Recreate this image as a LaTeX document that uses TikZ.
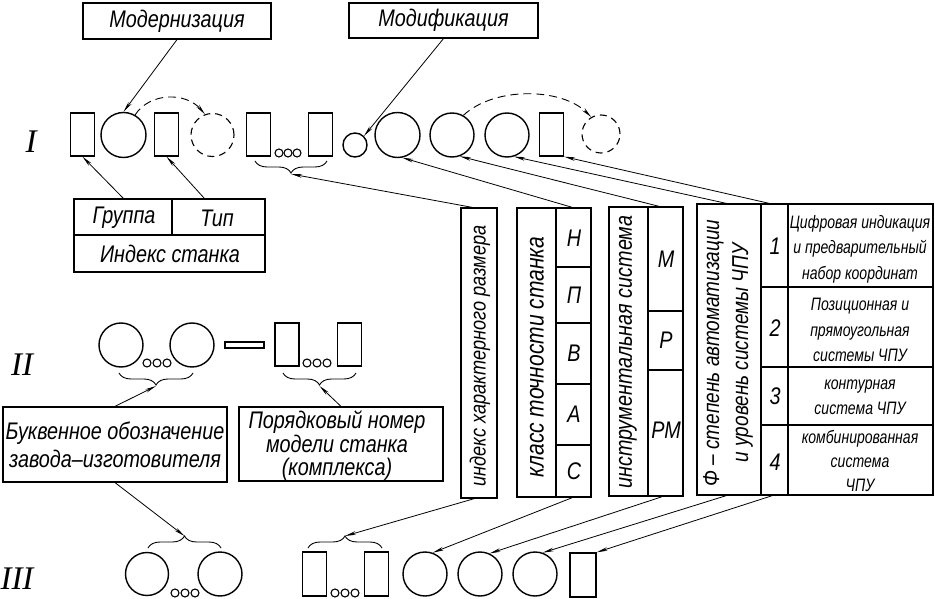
\documentclass[tikz,border=0pt]{standalone}
\usepackage{fontspec}
\newfontfamily\gost{Liberation Sans}[FakeStretch=0.825]
\newfontfamily\gostn{Liberation Sans}[FakeStretch=0.78]
\newfontfamily\rmnum{Liberation Serif}
\usetikzlibrary{arrows.meta,decorations.pathreplacing}
\begin{document}
\begin{tikzpicture}[x=1pt,y=-1pt,
  shp/.style={draw, line width=1.4pt, inner sep=0pt},
  rbox/.style={shp, rectangle, minimum width=24pt, minimum height=43pt},
  cbox/.style={shp, circle, minimum size=44pt},
  dcirc/.style={draw, line width=1.1pt, circle, inner sep=0pt, dash pattern=on 7pt off 5pt},
  dot/.style={draw, line width=1.1pt, circle, minimum size=8pt, inner sep=0pt},
  arr/.style={line width=0.8pt, -{Stealth[length=11pt,width=3.6pt]}},
  darr/.style={line width=0.9pt, dash pattern=on 8pt off 5pt, -{Stealth[length=11pt,width=3.6pt]}},
  frm/.style={draw, line width=1.2pt, rectangle, inner sep=0pt},
  tline/.style={line width=1.2pt},
  big/.style={font=\gost\itshape\fontsize{24}{28}\selectfont},
  small/.style={font=\gostn\itshape\fontsize{18}{25.5}\selectfont},
  rn/.style={font=\rmnum\itshape\fontsize{33}{36}\selectfont, inner sep=0pt},
  brd/.style={line width=0.9pt, decorate, decoration={brace, amplitude=12pt, mirror}},
  bru/.style={line width=0.9pt, decorate, decoration={brace, amplitude=12pt}}]
\useasboundingbox (0,0) rectangle (935,599);

% ---------- top boxes
\node[frm, minimum width=188pt, minimum height=36pt, big] (mod) at (177,21) {Модернизация};
\node[frm, minimum width=189pt, minimum height=35pt, big] (modf) at (443.5,20.5) {Модификация};

% ---------- row I
\node[rn] (nI) at (31,142) {I};
\node[rbox] (r1) at (82.5,134.5) {};
\node[cbox, minimum size=45pt] (c1) at (123.5,135) {};
\node[rbox] (r2) at (166.5,134.5) {};
\node[dcirc, minimum size=43pt] (dc1) at (212.5,135) {};
\node[rbox] (r3) at (258.5,134.5) {};
\node[dot] (o1) at (279,153) {};
\node[dot] (o2) at (288,153) {};
\node[dot] (o3) at (297,153) {};
\node[rbox] (r4) at (320.5,134.5) {};
\node[shp, circle, minimum size=24pt] (sc) at (355,145) {};
\node[cbox, minimum size=45pt] (c2) at (397.5,135) {};
\node[cbox] (c3) at (452,135) {};
\node[cbox] (c4) at (507,135) {};
\node[rbox] (r5) at (551.5,134.5) {};
\node[dcirc, minimum size=38pt] (dc2) at (601,134) {};

\draw[darr] (c1.60) .. controls (150,92) and (186,92) .. (dc1.110);
\draw[darr] (c3.60) .. controls (495,86) and (562,88) .. (dc2.120);

\draw[brd] (255,161) -- (327,161);
\coordinate (tI) at (291,174);

\draw[arr] (mod.south) -- (c1.north);
\draw[arr] (modf.south) -- (sc.45);

% ---------- group / type table
\node[frm, minimum width=191pt, minimum height=73pt] (gt) at (169.5,235.5) {};
\draw[tline] (74,235) -- (265,235);
\draw[tline] (172,199) -- (172,235);
\node[big] (tgr) at (124,218) {Группа};
\node[big] (ttp) at (217,218) {Тип};
\node[big] (tix) at (170,254) {Индекс станка};
\draw[arr] ([xshift=50pt]gt.north west) -- (r1.south);
\draw[arr] ([xshift=131pt]gt.north west) -- (r2.south);

% ---------- right tables
\node[frm, minimum width=36pt, minimum height=290pt] (ind) at (479,353) {};
\node[big, rotate=90, font=\gost\itshape\fontsize{22}{26}\selectfont] (tind) at (480,356) {индекс характерного размера};

\node[frm, minimum width=74pt, minimum height=289pt] (kl) at (554,352.5) {};
\draw[tline] (556,208) -- (556,497);
\foreach \yy in {267,323,384,445} \draw[tline] (556,\yy) -- (591,\yy);
\node[big, rotate=90, font=\gost\itshape\fontsize{25.5}{28}\selectfont] (tkl) at (537,357) {класс точности станка};
\node[big] (kH) at (574,238) {Н};
\node[big] (kP) at (574,295) {П};
\node[big] (kB) at (574,353) {В};
\node[big] (kA) at (574,414) {А};
\node[big] (kC) at (574,471) {С};

\node[frm, minimum width=74pt, minimum height=289pt] (ins) at (646,351.5) {};
\draw[tline] (648,207) -- (648,496);
\draw[tline] (648,311) -- (683,311);
\draw[tline] (648,370) -- (683,370);
\node[big, rotate=90] (tins) at (628,352) {инструментальная система};
\node[big] (iM) at (666,259) {М};
\node[big] (iP) at (666,340) {Р};
\node[big] (iPM) at (666,430) {РМ};

\node[frm, minimum width=236pt, minimum height=291pt] (phi) at (815,349.5) {};
\draw[tline] (761,204) -- (761,495);
\draw[tline] (788,204) -- (788,495);
\foreach \yy in {287,367,425} \draw[tline] (761,\yy) -- (933,\yy);
\node[big, rotate=90, align=center, font=\gost\itshape\fontsize{23}{29}\selectfont] (tphi) at (728,353) {Φ – степень автоматизации\\и уровень системы ЧПУ};
\node[big] (n1) at (775,246) {1};
\node[big] (n2) at (775,328) {2};
\node[big] (n3) at (775,396) {3};
\node[big] (n4) at (775,462) {4};
\node[small, align=center] (d1) at (860,249) {Цифровая индикация\\и предварительный\\набор координат};
\node[small, align=center] (d2) at (860,330) {Позиционная и\\прямоугольная\\системы ЧПУ};
\node[small, align=center] (d3) at (860,397) {контурная\\система ЧПУ};
\node[small, align=center, font=\gostn\itshape\fontsize{18}{24}\selectfont] (d4) at (860,461) {комбинированная\\система\\ЧПУ};

% arrows up to row I
\draw[arr] ([xshift=12pt]ind.north west) -- (tI);
\draw[arr] ([xshift=56pt]kl.north west) -- (c2.-78);
\draw[arr] ([xshift=51pt]ins.north west) -- (c3.-70);
\draw[arr] ([xshift=30pt]phi.north west) -- (c4.-72);
\draw[arr] ([xshift=73pt]phi.north west) -- (r5.south east);

% ---------- row II
\node[rn] (nII) at (22,365) {II};
\node[cbox] (c5) at (121,345) {};
\node[dot] (o4) at (147,363) {};
\node[dot] (o5) at (157,363) {};
\node[dot] (o6) at (167,363) {};
\node[cbox] (c6) at (192,345) {};
\node[shp, line width=1.1pt, rectangle, minimum width=39pt, minimum height=6pt] (bar) at (244.5,345) {};
\node[rbox] (r6) at (287,344.5) {};
\node[dot] (o7) at (307,363) {};
\node[dot] (o8) at (317,363) {};
\node[dot] (o9) at (327,363) {};
\node[rbox] (r7) at (349.5,344.5) {};
\draw[brd] (119,373) -- (193,373);
\coordinate (tII1) at (156,386);
\draw[brd] (283,373) -- (356,373);
\coordinate (tII2) at (319.5,386);

\node[frm, minimum width=224pt, minimum height=75pt, big, align=center] (buk) at (115,444.5)
  {Буквенное обозначение\\завода–изготовителя};
\node[frm, minimum width=204pt, minimum height=74pt] (por) at (341,444) {};
\node[big, align=center, font=\gost\itshape\fontsize{24}{23.5}\selectfont] (tpor) at (337,446) {Порядковый номер\\модели станка\\(комплекса)};
\draw[arr] (buk.north) -- (tII1);
\draw[arr] (por.north) -- (tII2);

% ---------- row III
\node[rn] (nIII) at (17,579) {III};
\node[cbox, minimum size=43pt] (c7) at (147,574) {};
\node[dot] (o10) at (175,593) {};
\node[dot] (o11) at (185,593) {};
\node[dot] (o12) at (195,593) {};
\node[cbox] (c8) at (220,574) {};
\node[rbox, minimum height=44pt] (r8) at (314.5,574) {};
\node[dot] (o13) at (335,593) {};
\node[dot] (o14) at (345,593) {};
\node[dot] (o15) at (355,593) {};
\node[rbox, minimum height=44pt] (r9) at (376.5,574) {};
\node[cbox] (c9) at (425,574) {};
\node[cbox] (c10) at (480,574) {};
\node[cbox] (c11) at (535,574) {};
\node[rbox, minimum width=26pt, minimum height=44pt] (r10) at (583,575) {};
\draw[bru] (148,548) -- (221,548);
\coordinate (tIII1) at (184.5,536);
\draw[bru] (308,548) -- (382,548);
\coordinate (tIII2) at (345,536);

\draw[arr] (buk.south) -- (tIII1);
\draw[arr] ([xshift=14pt]ind.south west) -- (tIII2);
\draw[arr] ([xshift=56pt]kl.south west) -- (c9.70);
\draw[arr] ([xshift=54pt]ins.south west) -- (c10.65);
\draw[arr] ([xshift=30pt]phi.south west) -- (c11.70);
\draw[arr] ([xshift=76pt]phi.south west) -- (r10.north east);
\end{tikzpicture}
\end{document}
